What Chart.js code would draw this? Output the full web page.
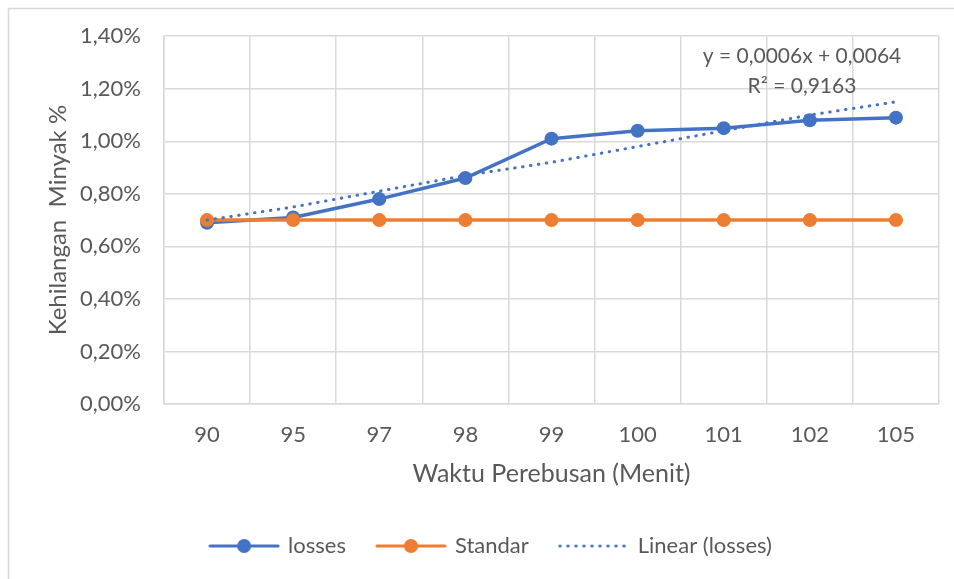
<!DOCTYPE html>
<html>
<head>
<meta charset="utf-8">
<script src="https://cdn.jsdelivr.net/npm/chart.js@4.4.1/dist/chart.umd.min.js"></script>
<style>
  html, body { margin: 0; padding: 0; background: #fff; }
</style>
</head>
<body>
<canvas id="lossChart" width="954" height="579"></canvas>
<script>
const categories = ["90", "95", "97", "98", "99", "100", "101", "102", "105"];
const losses = [0.69, 0.71, 0.78, 0.86, 1.01, 1.04, 1.05, 1.08, 1.09];
const standar = [0.70, 0.70, 0.70, 0.70, 0.70, 0.70, 0.70, 0.70, 0.70];
// trendline
const trendLosses = [0.70, 0.75, 0.81, 0.87, 0.92, 0.98, 1.04, 1.10, 1.15];
const yMin = 0, yMax = 1.4, yStep = 0.2;
const trendText = ["y = 0,0006x + 0,0064", "R\u00b2 = 0,9163"];

const BLUE = "#4472C4";
const ORANGE = "#ED7D31";
const TEXT = "#595959";
const GRID = "#d9d9d9";
const FONT = "Lato, 'Open Sans', sans-serif";

const legendIcon = (color, dotted, marker) => {
  const c = document.createElement("canvas");
  c.width = 72;
  c.height = 18;
  const g = c.getContext("2d");
  g.strokeStyle = color;
  g.fillStyle = color;
  g.lineWidth = 3;
  g.lineCap = "round";
  if (dotted) {
    g.setLineDash([0.5, 7.5]);
  }
  g.beginPath();
  g.moveTo(2, 9);
  g.lineTo(70, 9);
  g.stroke();
  if (marker) {
    g.beginPath();
    g.arc(36, 9, 7, 0, Math.PI * 2);
    g.fill();
  }
  return c;
};

const fmtPct = (v) => v.toFixed(2).replace(".", ",") + "%";

const extras = {
  id: "extras",
  beforeDraw(chart) {
    const ctx = chart.ctx;
    ctx.save();
    ctx.fillStyle = "#fff";
    ctx.fillRect(0, 0, chart.width, chart.height);
    ctx.strokeStyle = GRID;
    ctx.lineWidth = 1.5;
    ctx.strokeRect(8.5, 8.5, 950, 575);
    ctx.restore();
  },
  afterDatasetsDraw(chart) {
    const ctx = chart.ctx;
    const a = chart.chartArea;
    ctx.save();
    ctx.fillStyle = TEXT;
    ctx.font = "21px " + FONT;
    ctx.textAlign = "center";
    ctx.textBaseline = "middle";
    ctx.fillText(trendText[0], a.right - 137, a.top + 20);
    ctx.fillText(trendText[1], a.right - 137, a.top + 50);
    ctx.restore();
  },
};

new Chart(document.getElementById("lossChart"), {
  type: "line",
  data: {
    labels: categories,
    datasets: [
      {
        label: "losses",
        data: losses,
        borderColor: BLUE,
        backgroundColor: BLUE,
        borderWidth: 3.5,
        pointRadius: 7,
        pointBorderWidth: 0,
        pointStyle: "circle",
        order: 2,
        legendIcon: legendIcon(BLUE, false, true),
      },
      {
        label: "Standar",
        data: standar,
        borderColor: ORANGE,
        backgroundColor: ORANGE,
        borderWidth: 3.5,
        pointRadius: 7,
        pointBorderWidth: 0,
        order: 1,
        legendIcon: legendIcon(ORANGE, false, true),
      },
      {
        label: "Linear (losses)",
        data: trendLosses,
        borderColor: BLUE,
        backgroundColor: BLUE,
        borderWidth: 3,
        borderDash: [0.5, 7.5],
        borderCapStyle: "round",
        pointRadius: 0,
        order: 0,
        legendIcon: legendIcon(BLUE, true, false),
      },
    ],
  },
  options: {
    responsive: false,
    animation: false,
    devicePixelRatio: 1,
    layout: { padding: { left: 44, right: 15, top: 28, bottom: 12 } },
    plugins: {
      tooltip: { enabled: false },
      legend: {
        position: "bottom",
        labels: {
          usePointStyle: true,
          pointStyleWidth: 66,
          padding: 32,
          color: TEXT,
          font: { family: FONT, size: 22 },
          sort: (a, b) => a.datasetIndex - b.datasetIndex,
          generateLabels: (chart) =>
            chart.data.datasets.map((ds, i) => ({
              text: ds.label,
              datasetIndex: i,
              pointStyle: ds.legendIcon,
              fillStyle: ds.borderColor,
              strokeStyle: ds.borderColor,
              lineWidth: 0,
              fontColor: TEXT,
              hidden: false,
            })),
        },
      },
    },
    scales: {
      x: {
        offset: true,
        grid: { offset: true, color: GRID, lineWidth: 1.5, drawTicks: false },
        border: { display: true, color: GRID, width: 1.5 },
        ticks: { color: TEXT, font: { family: FONT, size: 22 }, padding: 18, maxRotation: 0 },
        title: {
          display: true,
          text: "Waktu Perebusan (Menit)",
          color: TEXT,
          font: { family: FONT, size: 25 },
          padding: { top: 0, bottom: 14 },
        },
        afterFit: (s) => { s.height = 99; },
      },
      y: {
        min: yMin,
        max: yMax,
        ticks: {
          stepSize: yStep,
          color: TEXT,
          font: { family: FONT, size: 22 },
          padding: 23,
          callback: (v) => fmtPct(v),
        },
        grid: { color: GRID, lineWidth: 1.5, drawTicks: false },
        border: { display: true, color: GRID, width: 1.5 },
        title: {
          display: true,
          text: "Kehilangan  Minyak %",
          color: TEXT,
          font: { family: FONT, size: 24 },
          padding: { top: 0, bottom: 0 },
        },
        afterFit: (s) => { s.width = 120; },
      },
    },
  },
  plugins: [extras],
});
</script>
</body>
</html>
